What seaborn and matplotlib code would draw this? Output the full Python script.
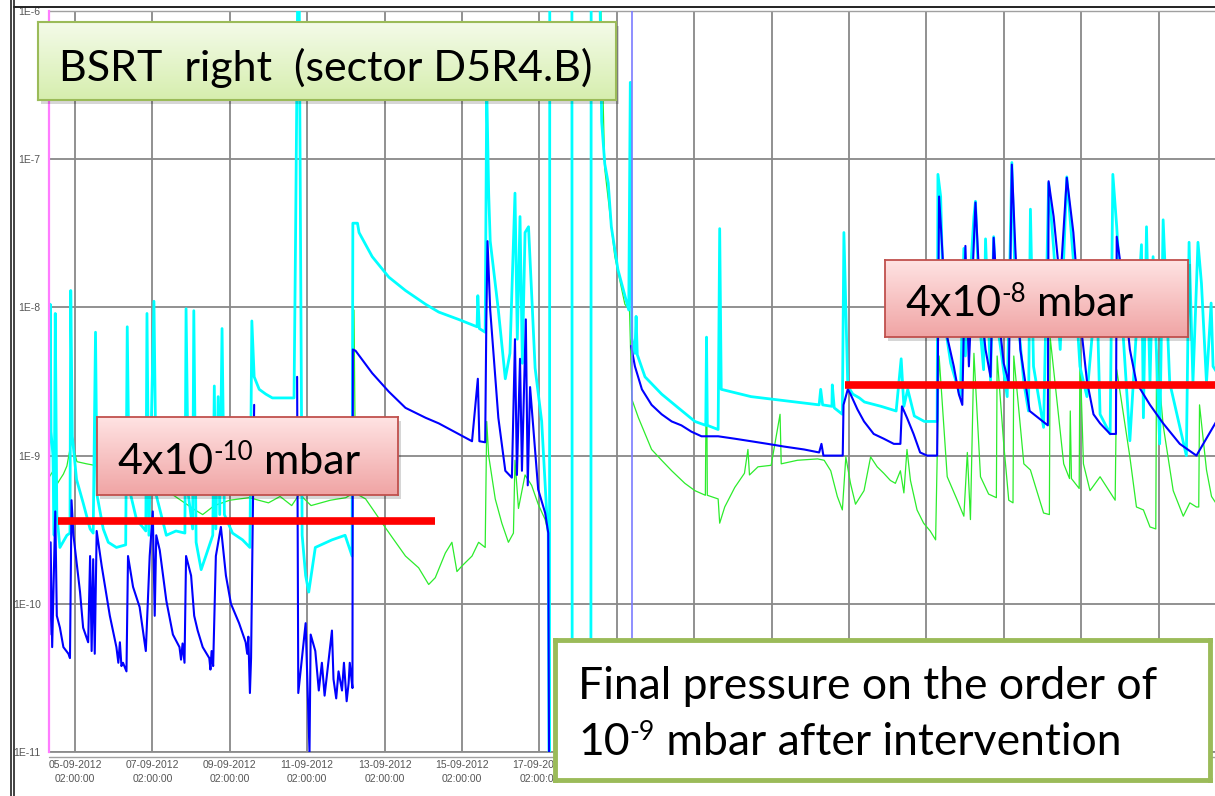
import numpy as np
import pandas as pd
import matplotlib
matplotlib.use("Agg")
import matplotlib.pyplot as plt
from matplotlib.colors import LinearSegmentedColormap
from matplotlib.lines import Line2D
from matplotlib.patches import Rectangle
from matplotlib.ticker import LogLocator, NullFormatter
import seaborn as sns

sns.set_style("white")
plt.rcParams["font.family"] = ["Lato", "DejaVu Sans"]

# ------------------------------------------------------------------ data
START = pd.Timestamp("2012-09-05 02:00:00")   # day 0
OFF_TOP = 1e-5      # gauge reading above the display range
OFF_BOT = 1e-12     # gauge reading below the display range
N = np.nan          # gap between recorded stretches

# cyan gauge (days since START, mbar)
cyan_days = [
    -0.69, -0.64, -0.62, -0.57, -0.54, -0.51, -0.47, -0.39, -0.21, -0.13,
    -0.11, -0.07, 0.04, 0.21, 0.39, 0.47, 0.53, 0.57, 0.73, 0.86,
    1.07, 1.31, 1.35, 1.40, 1.59, 1.83, 1.86, 1.91, 2.04, 2.10,
    2.36, 2.61, 2.84, 2.87, 2.93, 3.04, 3.07, 3.13, 3.26, 3.38,
    3.56, 3.60, 3.64, 3.70, 3.74, 3.80, 3.86, 4.07, 4.33, 4.52,
    4.57, 4.63, 4.76, 4.93, 5.10, 5.66, 5.70, 5.76, 5.79, 5.87,
    5.96, 6.04, 6.21, 6.64, 6.98, 7.16, 7.18, 7.30, 7.34, 7.68,
    8.11, 8.54, 9.06, 9.40, 9.91, 10.39, 10.41, 10.45, 10.60, 10.64,
    10.69, 10.73, 10.94, 11.12, 11.24, 11.37, 11.43, 11.50, 11.56, 11.63,
    11.72, 11.89, 12.06, 12.19, 12.23, 12.26, 12.27, 12.84, 12.85, 13.33,
    13.34, 13.52, 13.61, 13.69, 13.78, 13.86, 14.03, 14.21, 14.31, 14.35,
    14.39, 14.47, 14.50, 14.53, 14.73, 15.16, 15.59, 16.02, 16.30, 16.32,
    16.34, 16.62, 16.66, 16.70, 17.47, 18.33, 19.23, 19.27, 19.32, 19.56,
    19.57, 19.62, 19.83, 19.87, 19.97, 20.10, 20.27, 20.40, 20.83, 21.22,
    21.35, 21.42, 21.52, 21.69, 21.95, 22.28, 22.30, 22.37, 22.45, 22.63,
    22.88, 22.97, 23.01, 23.23, 23.27, 23.40, 23.48, 23.53, 23.66, 23.74,
    23.83, 24.09, 24.21, 24.30, 24.52, 24.64, 24.69, 24.77, 25.03, 25.16,
    25.29, 25.46, 25.63, 25.80, 25.97, 26.15, 26.40, 26.49, 26.75, 26.82,
    26.92, 27.09, 27.26, 27.56, 27.61, 27.69, 27.78, 27.86, 28.03, 28.12,
    28.29, 28.72, 28.79, 28.89, 29.02, 29.11, 29.24, 29.36, 29.41, 29.55,
]
cyan_mbar = [
    2.9e-10, 1.05e-8, 1.45e-9, 1.0e-9, 2.9e-10, 9.1e-9, 4.0e-10, 2.4e-10, 2.9e-10, 3.0e-10,
    1.3e-8, 1.35e-9, 6.9e-10, 4.8e-10, 3.2e-10, 3.0e-10, 6.8e-9, 5.4e-10, 3.2e-10, 2.6e-10,
    2.4e-10, 2.5e-10, 7.4e-9, 6.0e-10, 3.7e-10, 3.1e-10, 9.1e-9, 2.9e-10, 1.1e-8, 5.4e-10,
    2.9e-10, 3.1e-10, 3.0e-10, 9.8e-9, 5.4e-10, 3.2e-10, 9.5e-9, 2.6e-10, 1.7e-10, 2.1e-10,
    2.9e-10, 2.95e-9, 3.2e-10, 2.5e-9, 4.0e-10, 7.2e-9, 4.0e-10, 3.0e-10, 2.7e-10, 2.4e-10,
    8.1e-9, 3.4e-9, 2.8e-9, 2.6e-9, 2.45e-9, 2.45e-9, 3.0e-8, 2e-6, 2e-6, 2.9e-10,
    1.55e-10, 1.2e-10, 2.4e-10, 2.7e-10, 2.9e-10, 2.1e-10, 3.7e-8, 3.7e-8, 3.2e-8, 2.2e-8,
    1.6e-8, 1.3e-8, 1.05e-8, 9.3e-9, 8.3e-9, 7.4e-9, 1.2e-8, 7.2e-9, 6.8e-9, 3.0e-7,
    5.9e-8, 2.8e-8, 9.6e-9, 3.3e-9, 4.9e-9, 5.9e-8, 6.1e-9, 4.1e-8, 4.2e-9, 3.2e-8,
    3.5e-8, 3.9e-9, 1.7e-9, 4.1e-10, 3.0e-10, OFF_BOT, OFF_TOP, OFF_TOP, OFF_BOT, OFF_BOT,
    OFF_TOP, OFF_TOP, 1.8e-7, 9.3e-8, 6.9e-8, 3.5e-8, 1.8e-8, 1.2e-8, 9.6e-9, 3.3e-7,
    6.2e-9, 4.9e-9, 8.7e-9, 4.8e-9, 3.4e-9, 2.6e-9, 2.1e-9, 1.7e-9, 1.6e-9, 6.3e-9,
    1.6e-9, 1.5e-9, 3.4e-8, 2.8e-9, 2.5e-9, 2.35e-9, 2.2e-9, 2.8e-9, 2.2e-9, 2.15e-9,
    3.0e-9, 2.1e-9, 1.9e-9, 3.2e-8, 2.95e-9, 2.6e-9, 2.45e-9, 2.3e-9, 2.15e-9, 2.0e-9,
    4.5e-9, 2.15e-9, 2.8e-9, 1.85e-9, 1.7e-9, 1.7e-9, 7.9e-8, 5.6e-8, 8.7e-9, 4.2e-9,
    2.5e-9, 2.5e-8, 4.7e-9, 4.1e-8, 5.2e-8, 6.7e-9, 3.8e-9, 2.9e-8, 3.2e-9, 3.0e-8,
    7.9e-9, 2.5e-9, 9.5e-8, 1.3e-8, 3.1e-9, 2.0e-9, 4.6e-8, 4.0e-9, 1.55e-9, 6.9e-8,
    2.5e-8, 5.2e-9, 7.6e-8, 2.1e-8, 4.0e-9, 2.5e-9, 1.45e-8, 1.9e-9, 1.4e-9, 7.9e-8,
    3.5e-8, 6.3e-9, 1.26e-9, 2.65e-8, 1.8e-9, 3.5e-8, 3.1e-9, 2.2e-8, 1.2e-9, 3.9e-8,
    3.1e-9, 1.0e-9, 2.75e-8, 3.1e-9, 2.75e-8, 1.45e-8, 3.1e-9, 1.07e-8, 4.0e-9, 3.5e-9,
]

# blue gauge
blue_days = [
    -0.69, -0.66, -0.63, -0.59, -0.51, -0.47, -0.39, -0.30, -0.17, -0.13,
    -0.09, -0.04, 0.13, 0.21, 0.34, 0.39, 0.43, 0.47, 0.51, 0.56,
    0.69, 0.90, 1.07, 1.12, 1.16, 1.20, 1.24, 1.33, 1.37, 1.50,
    1.67, 1.83, 1.93, 2.01, 2.06, 2.10, 2.19, 2.36, 2.53, 2.70,
    2.74, 2.78, 2.83, 2.87, 3.00, 3.08, 3.17, 3.30, 3.47, 3.50,
    3.53, 3.57, 3.64, 3.77, 3.90, 4.03, 4.24, 4.41, 4.45, 4.48,
    4.52, 4.55, 4.63, N,
    5.74, 5.77, 5.96, 6.06, 6.09, 6.21, 6.30, 6.38, 6.45, 6.51,
    6.64, 6.68, 6.75, 6.81, 6.90, 6.95, 6.98, 7.02, 7.07, 7.10,
    7.14, 7.17, 7.18, 7.25, 7.68, 8.11, 8.54, 9.06, 9.40, 9.91,
    10.26, 10.41, 10.45, 10.60, 10.63, 10.66, 10.73, 10.94, 11.12, 11.29,
    11.37, 11.42, 11.50, 11.55, 11.65, 11.70, 11.76, 11.97, 12.15, 12.23,
    12.25, N,
    14.37, 14.47, 14.65, 14.90, 15.16, 15.42, 15.67, 15.93, 16.19, 16.62,
    17.05, 17.47, 17.90, 18.33, 18.84, 19.23, 19.29, 19.34, 19.84, 19.86,
    19.97, 20.04, 20.22, 20.39, 20.64, 20.90, 21.16, 21.33, 21.37, 21.50,
    21.67, 21.84, 22.02, 22.28, 22.33, 22.41, 22.54, 22.71, 22.84, 22.93,
    23.01, 23.10, 23.27, 23.40, 23.53, 23.66, 23.74, 23.87, 24.00, 24.13,
    24.21, 24.30, 24.43, 24.56, 24.67, 25.14, 25.16, 25.29, 25.46, 25.63,
    25.80, 25.97, 26.15, 26.32, 26.49, 26.75, 26.90, 26.92, 27.09, 27.26,
    27.43, 27.78, 28.12, 28.55, 28.98, 29.55,
]
blue_mbar = [
    2.9e-10, 6.2e-11, 2.6e-10, 5.1e-11, 4.2e-10, 8.3e-11, 6.9e-11, 5.1e-11, 4.6e-11, 4.3e-11,
    5.0e-10, 2.9e-10, 1.2e-10, 6.9e-11, 5.5e-11, 2.1e-10, 4.8e-11, 2.0e-10, 4.6e-11, 3.1e-10,
    1.8e-10, 8.3e-11, 5.1e-11, 4.0e-11, 5.5e-11, 3.8e-11, 4.0e-11, 3.5e-11, 2.1e-10, 1.3e-10,
    9.5e-11, 4.8e-11, 2.1e-10, 4.2e-10, 8.3e-11, 2.9e-10, 2.3e-10, 1.05e-10, 6.2e-11, 5.1e-11,
    4.2e-11, 5.4e-11, 4.0e-11, 2.1e-10, 1.55e-10, 8.3e-11, 6.6e-11, 5.1e-11, 4.3e-11, 3.6e-11,
    4.8e-11, 3.8e-11, 2.1e-10, 3.3e-10, 1.55e-10, 1.0e-10, 7.4e-11, 5.5e-11, 4.6e-11, 6.0e-11,
    2.5e-11, 4.3e-11, 2.2e-9, N,
    3.4e-9, 2.5e-11, 7.4e-11, 1.0e-11, 6.2e-11, 4.8e-11, 2.6e-11, 4.0e-11, 2.4e-11, 3.3e-11,
    6.6e-11, 3.1e-11, 2.3e-11, 3.5e-11, 2.6e-11, 4.0e-11, 3.1e-11, 2.2e-11, 2.9e-11, 4.0e-11,
    3.2e-11, 2.7e-11, 5.2e-9, 5.1e-9, 3.6e-9, 2.7e-9, 2.1e-9, 1.8e-9, 1.65e-9, 1.4e-9,
    1.25e-9, 3.3e-9, 1.25e-9, 1.23e-9, 8.3e-9, 2.8e-8, 9.6e-9, 1.8e-9, 7.9e-10, 7.1e-10,
    6.1e-9, 7.4e-10, 4.5e-9, 7.9e-10, 8.3e-9, 6.3e-10, 2.9e-9, 5.9e-10, 4.1e-10, 3.0e-10,
    1.0e-11, N,
    5.5e-9, 4.0e-9, 2.8e-9, 2.2e-9, 1.9e-9, 1.7e-9, 1.6e-9, 1.45e-9, 1.35e-9, 1.35e-9,
    1.3e-9, 1.25e-9, 1.2e-9, 1.15e-9, 1.1e-9, 1.05e-9, 1.2e-9, 1.0e-9, 1.0e-9, 2.2e-9,
    2.8e-9, 2.6e-9, 2.05e-9, 1.7e-9, 1.4e-9, 1.3e-9, 1.2e-9, 1.2e-9, 2.15e-9, 1.8e-9,
    1.4e-9, 1.05e-9, 1.0e-9, 1.0e-9, 5.6e-8, 2.5e-8, 6.3e-9, 4.0e-9, 2.6e-9, 2.2e-9,
    2.6e-8, 4.0e-9, 5.1e-8, 1.07e-8, 5.2e-9, 3.4e-9, 2.95e-8, 8.7e-9, 4.2e-9, 3.1e-9,
    9.2e-8, 2.5e-8, 5.2e-9, 3.1e-9, 2.0e-9, 1.6e-9, 7.1e-8, 4.1e-8, 1.45e-8, 7.5e-8,
    3.2e-8, 8.7e-9, 3.2e-9, 1.9e-9, 1.65e-9, 1.4e-9, 1.4e-9, 3.0e-8, 1.45e-8, 5.2e-9,
    3.1e-9, 2.2e-9, 1.65e-9, 1.2e-9, 1.0e-9, 1.8e-9,
]

# green gauge
green_days = [
    -0.69, -0.55, -0.45, -0.39, -0.30, -0.21, -0.09, 0.05, 0.30, 0.50,
    1.00, 1.50, 2.00, 2.50, 3.10, 3.30, 3.60, 4.00, 4.50, 5.00,
    5.30, 5.60, 5.80, 6.10, 6.60, 7.00, 7.15, 7.21, 7.25, 7.34,
    7.51, 7.68, 7.94, 8.20, 8.54, 8.88, 9.14, 9.31, 9.57, 9.74,
    9.87, 10.00, 10.26, 10.43, 10.60, 10.64, 10.69, 10.86, 11.03, 11.20,
    11.33, 11.37, 11.46, 11.63, 11.80, 11.97, 12.15, 12.23, N,
    13.50, 13.69, 13.95, 14.21, 14.33, 14.39, 14.56, 14.90, 15.16, 15.42,
    15.76, 16.02, 16.29, 16.32, 16.34, 16.62, 16.66, 16.79, 17.05, 17.30,
    17.39, 17.43, 17.65, 17.99, 18.22, 18.25, 18.67, 19.19, 19.36, 19.53,
    19.70, 19.83, 19.92, 20.04, 20.17, 20.39, 20.56, 20.73, 20.90, 21.07,
    21.20, 21.33, 21.42, 21.50, 21.59, 21.76, 21.93, 22.10, 22.24, 22.33,
    22.54, 22.80, 22.97, 23.06, 23.14, 23.23, 23.40, 23.61, 23.81, 23.83,
    24.00, 24.13, 24.24, 24.26, 24.52, 24.69, 25.03, 25.18, 25.20, 25.55,
    25.70, 25.72, 25.75, 25.95, 25.97, 26.06, 26.23, 26.49, 26.88, 26.92,
    27.26, 27.43, 27.61, 27.78, 27.93, 27.95, 28.12, 28.38, 28.64, 28.81,
    28.98, 29.04, 29.06, 29.24, 29.37, 29.55,
]
green_mbar = [
    7.0e-10, 8.0e-10, 6.5e-10, 6.9e-10, 7.5e-10, 8.5e-10, 1.26e-9, 9.1e-10, 8.8e-10, 8.6e-10,
    7.5e-10, 6.5e-10, 6.0e-10, 5.5e-10, 4.3e-10, 4.0e-10, 4.6e-10, 5.0e-10, 5.2e-10, 4.8e-10,
    5.3e-10, 4.6e-10, 5.5e-10, 4.6e-10, 5.0e-10, 5.2e-10, 5.5e-10, 9.6e-9, 6.3e-10, 5.4e-10,
    5.1e-10, 4.4e-10, 3.5e-10, 2.8e-10, 2.1e-10, 1.75e-10, 1.35e-10, 1.5e-10, 2.2e-10, 2.6e-10,
    1.65e-10, 1.8e-10, 2.1e-10, 2.6e-10, 2.4e-10, 1.7e-9, 1.0e-9, 5.1e-10, 3.5e-10, 2.6e-10,
    3.0e-10, 9.3e-10, 4.4e-10, 7.4e-10, 6.3e-10, 4.7e-10, 3.7e-10, 3.0e-10, N,
    OFF_TOP, 8.6e-8, 2.2e-8, 1.05e-8, 9.6e-9, 2.4e-9, 1.8e-9, 1.1e-9, 9.3e-10, 7.9e-10,
    6.5e-10, 5.8e-10, 5.4e-10, 6.3e-9, 5.4e-10, 5.1e-10, 3.5e-10, 4.5e-10, 6.1e-10, 7.6e-10,
    1.1e-9, 7.4e-10, 8.4e-10, 8.6e-10, 1.9e-9, 8.8e-10, 9.3e-10, 9.5e-10, 9.3e-10, 7.9e-10,
    5.3e-10, 4.3e-10, 9.8e-10, 6.5e-10, 4.7e-10, 5.8e-10, 9.8e-10, 8.4e-10, 7.6e-10, 6.8e-10,
    6.5e-10, 7.9e-10, 5.6e-10, 1.1e-9, 6.8e-10, 4.3e-10, 3.5e-10, 3.1e-10, 2.7e-10, 4.7e-9,
    7.2e-10, 5.0e-10, 3.9e-10, 1.05e-9, 3.7e-10, 4.9e-9, 7.2e-10, 5.5e-10, 5.2e-10, 4.7e-9,
    1.2e-9, 5.0e-10, 4.8e-10, 4.7e-9, 8.8e-10, 8.0e-10, 4.1e-10, 4.0e-10, 6.3e-9, 8.8e-10,
    7.0e-10, 2.0e-9, 7.0e-10, 6.0e-10, 5.2e-9, 8.8e-10, 5.8e-10, 7.2e-10, 5.0e-10, 3.8e-9,
    9.8e-10, 4.5e-10, 4.3e-10, 3.3e-10, 3.2e-10, 5.2e-9, 1.6e-9, 5.8e-10, 3.9e-10, 4.8e-10,
    4.5e-10, 4.5e-10, 2.2e-9, 8.0e-10, 5.3e-10, 4.5e-10,
]

tick_days = list(range(0, 30, 2))
label_last_day = 12      # later date labels sit under the note box
decades = [1e-11, 1e-10, 1e-9, 1e-8, 1e-7, 1e-6]
decade_labels = ["1E-11", "1E-10", "1E-9", "1E-8", "1E-7", "1E-6"]
cursor_days = [14.39]

# reference levels drawn as red bars: (level, first day, last day)
ref_levels = [3.6e-10, 3.0e-9]
ref_start = [-0.44, 19.90]
ref_end = [9.30, 29.60]

title_text = "BSRT  right  (sector D5R4.B)"
# (text, superscript?) pieces
level_parts = [
    [("4x10", False), ("-10", True), (" mbar", False)],
    [("4x10", False), ("-8", True), (" mbar", False)],
]
final_line1 = [("Final pressure on the order of", False)]
final_line2 = [("10", False), ("-9", True), (" mbar after intervention", False)]

X_MIN_DAY, X_MAX_DAY = -0.672, 29.46


def to_time(days):
    return START + pd.to_timedelta(np.asarray(days, float), unit="D")


def frame(name, days, vals):
    d = np.asarray(days, float)
    v = np.asarray(vals, float)
    unit = np.cumsum(np.isnan(d))
    keep = ~np.isnan(d)
    return pd.DataFrame({
        "time": to_time(d[keep]),
        "pressure": v[keep],
        "unit": [f"{name}{u}" for u in unit[keep]],
    })


W, H = 1215, 796
fig = plt.figure(figsize=(W / 100, H / 100), dpi=100)
fig.patch.set_facecolor("white")
renderer = fig.canvas.get_renderer()

ax = fig.add_axes([49 / W, 1 - 752 / H, (W - 49) / W, (752 - 11) / H])
ax.set_facecolor("white")

series = [
    ("green", green_days, green_mbar, "#2cec2c", 0.9),
    ("cyan", cyan_days, cyan_mbar, "#00ffff", 2.0),
    ("blue", blue_days, blue_mbar, "#0000ff", 1.5),
]
for i, (name, d, v, col, lw) in enumerate(series):
    df = frame(name, d, v)
    sns.lineplot(data=df, x="time", y="pressure", units="unit",
                 estimator=None, sort=False, color=col, linewidth=lw,
                 ax=ax, legend=False, zorder=3 + i)

ax.set_yscale("log")
ax.set_ylim(decades[0], decades[-1])
ax.set_xlim(to_time([X_MIN_DAY])[0], to_time([X_MAX_DAY])[0])

for cd in cursor_days:
    ax.axvline(to_time([cd])[0], color="#7b7bff", lw=1.2, zorder=6)

for lev, a, b in zip(ref_levels, ref_start, ref_end):
    ax.hlines(lev, to_time([a])[0], to_time([b])[0], color="#ff0000",
              lw=5.5, zorder=8)

# axes styling
ax.set_yticks(decades)
ax.set_yticklabels(decade_labels)
ax.yaxis.set_minor_locator(LogLocator(base=10, subs=np.arange(2, 10)))
ax.yaxis.set_minor_formatter(NullFormatter())
tick_times = to_time(tick_days)
ax.set_xticks(tick_times)
ax.set_xticklabels([t.strftime("%d-%m-%Y\n%H:%M:%S") if d <= label_last_day else ""
                    for d, t in zip(tick_days, tick_times)])
ax.grid(True, which="major", color="#888888", lw=1.3, zorder=1)
ax.set_axisbelow(True)
ax.tick_params(axis="both", which="major", colors="#888888", labelcolor="#555555",
               length=4, width=1.2, pad=2)
ax.tick_params(axis="y", which="minor", colors="#999999", length=3, width=1)
for lab in ax.get_xticklabels() + ax.get_yticklabels():
    lab.set_fontfamily("Liberation Sans")
    lab.set_fontsize(7.5)
for lab in ax.get_xticklabels():
    lab.set_linespacing(1.45)
ax.set_xlabel("")
ax.set_ylabel("")
ax.spines["right"].set_visible(False)
ax.spines["left"].set_color("#ff7cff")
ax.spines["left"].set_linewidth(1.6)
ax.spines["left"].set_zorder(7)
ax.spines["bottom"].set_color("#8c8c8c")
ax.spines["bottom"].set_linewidth(1.3)
ax.spines["top"].set_color("#a0a0a0")
ax.spines["top"].set_linewidth(1.0)

# window frame
fig.add_artist(Line2D([11 / W, 11 / W], [0, 1], color="#222222", lw=1.2))
fig.add_artist(Line2D([14 / W, 14 / W], [0, 1], color="#222222", lw=1.2))
fig.add_artist(Line2D([14 / W, 1], [1 - 7 / H, 1 - 7 / H], color="#222222", lw=1.4))
fig.add_artist(Line2D([49 / W, 1], [1 - 757 / H, 1 - 757 / H], color="#a0a0a0", lw=1.0))


def px_box(x0, y0, x1, y1):
    return [x0 / W, 1 - y1 / H, (x1 - x0) / W, (y1 - y0) / H]


def add_box(x0, y0, x1, y1, top, bottom, edge, elw, shadow=True, z=10):
    if shadow:
        fig.add_artist(Rectangle(((x0 + 3) / W, 1 - (y1 + 4) / H), (x1 - x0) / W,
                                 (y1 - y0) / H, transform=fig.transFigure,
                                 facecolor="#000000", alpha=0.16, edgecolor="none",
                                 zorder=z - 1))
    bax = fig.add_axes(px_box(x0, y0, x1, y1), zorder=z)
    grad = np.linspace(0, 1, 256)[:, None]
    cmap = LinearSegmentedColormap.from_list("g", [top, bottom])
    bax.imshow(grad, aspect="auto", cmap=cmap, extent=[0, 1, 0, 1])
    bax.set_xticks([])
    bax.set_yticks([])
    bax.set_xlim(0, 1)
    bax.set_ylim(0, 1)
    for s in bax.spines.values():
        s.set_color(edge)
        s.set_linewidth(elw)
    bax._px = (x0, y0, x1, y1)
    return bax


def rich_text(bax, x_px, baseline_px, parts, fs, sup_scale=0.6):
    """Draw pieces one after another; superscripts smaller and raised."""
    x0, y0, x1, y1 = bax._px
    bw, bh = x1 - x0, y1 - y0
    x = x_px
    raise_px = fs * 100 / 72 * 0.72 * (1 - sup_scale) + 2
    for s, sup in parts:
        size = fs * sup_scale if sup else fs
        yb = baseline_px - (raise_px if sup else 0)
        t = bax.text((x - x0) / bw, (y1 - yb) / bh, s, transform=bax.transAxes,
                     va="baseline", ha="left", fontsize=size, color="black")
        ext = t.get_window_extent(renderer)
        x += ext.width


tb = add_box(38, 22, 616, 100, "#f4fbe9", "#d6eeae", "#9bbb59", 1.5)
rich_text(tb, 59, 81, [(title_text, False)], 31)

b1 = add_box(97, 417, 398, 495, "#ffe3e3", "#f0a4a4", "#c0504d", 1.3)
rich_text(b1, 117, 474, level_parts[0], 31)

b2 = add_box(885, 260, 1188, 337, "#ffe3e3", "#f0a4a4", "#c0504d", 1.3)
rich_text(b2, 905, 316, level_parts[1], 31)

b3 = add_box(555, 640, 1210, 780, "#ffffff", "#ffffff", "#9bbb59", 3.5, shadow=False)
rich_text(b3, 578, 699, final_line1, 32)
rich_text(b3, 578, 755, final_line2, 32)

fig.savefig("out.png", dpi=100, facecolor="white")
